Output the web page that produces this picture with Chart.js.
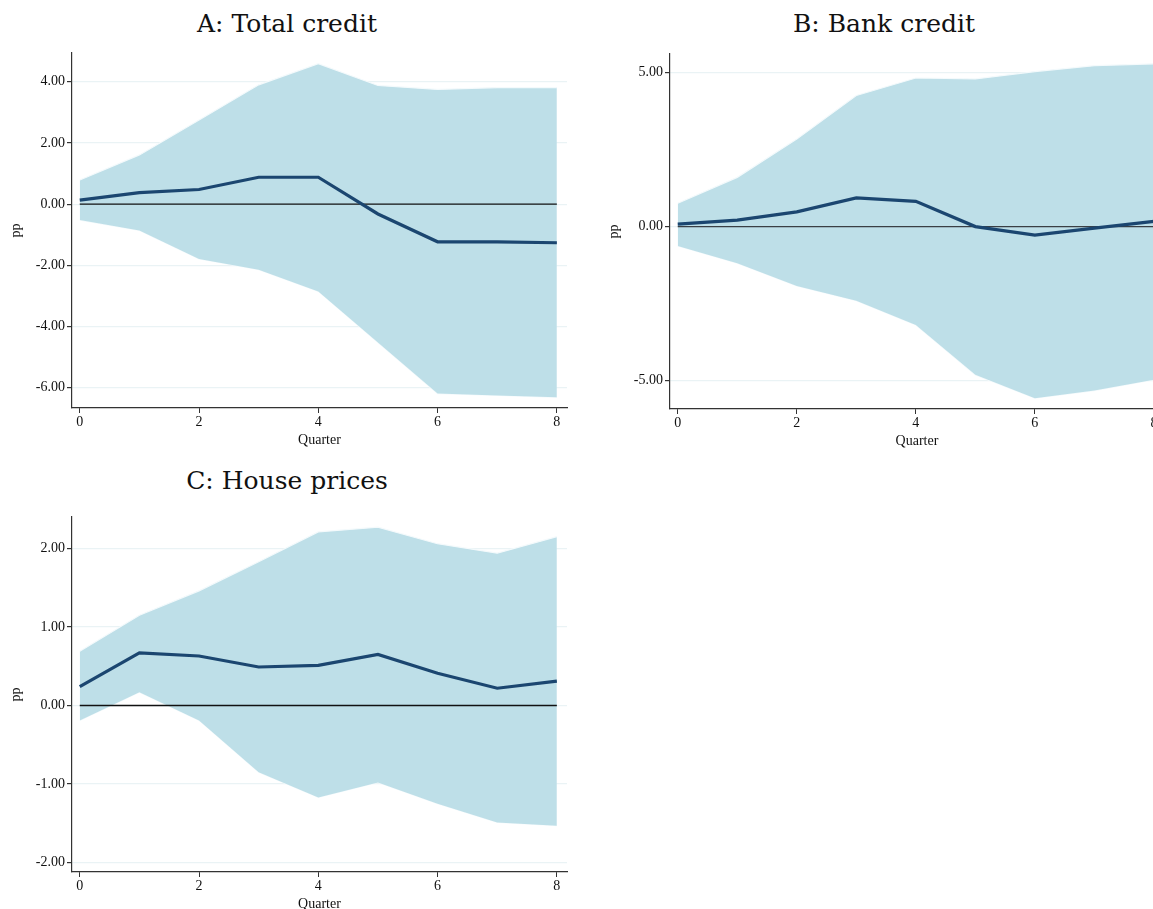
<!DOCTYPE html>
<html>
<head>
<meta charset="utf-8">
<script src="https://cdn.jsdelivr.net/npm/chart.js@4"></script>
<style>
  html, body { margin: 0; padding: 0; background: #fff; overflow: hidden; width: 1153px; height: 909px; }
  .panel { position: absolute; }
  .title { position: absolute; font-family: "DejaVu Serif", serif; font-size: 25px; color: #111; text-align: center; white-space: nowrap; }
</style>
</head>
<body>
<div class="title" style="left:0;width:574px;top:9px;">A: Total credit</div>
<div class="title" style="left:584px;width:600px;top:9px;">B: Bank credit</div>
<div class="title" style="left:0;width:574px;top:466px;">C: House prices</div>

<div class="panel" style="left:0;top:0;width:580px;height:450px;"><canvas id="chartA"></canvas></div>
<div class="panel" style="left:580px;top:1px;width:597px;height:450px;"><canvas id="chartB"></canvas></div>
<div class="panel" style="left:0;top:464px;width:580px;height:450px;"><canvas id="chartC"></canvas></div>

<script>
// quarters 0..8
const quarters = [0, 1, 2, 3, 4, 5, 6, 7, 8];

// A: Total credit
const totalMid   = [0.13, 0.38, 0.48, 0.88, 0.88, -0.32, -1.23, -1.23, -1.26];
const totalUpper = [0.79, 1.61, 2.75, 3.90, 4.59, 3.88, 3.75, 3.81, 3.81];
const totalLower = [-0.52, -0.86, -1.79, -2.14, -2.85, -4.52, -6.19, -6.25, -6.31];
const totalTicks = [-6, -4, -2, 0, 2, 4];

// B: Bank credit
const bankMid   = [0.08, 0.21, 0.48, 0.93, 0.82, 0.00, -0.28, -0.05, 0.17];
const bankUpper = [0.76, 1.60, 2.85, 4.26, 4.83, 4.80, 5.04, 5.23, 5.29];
const bankLower = [-0.63, -1.19, -1.93, -2.41, -3.20, -4.82, -5.58, -5.33, -4.98];
const bankTicks = [-5, 0, 5];

// C: House prices
const houseMid   = [0.24, 0.67, 0.63, 0.49, 0.51, 0.65, 0.41, 0.22, 0.31];
const houseUpper = [0.69, 1.15, 1.46, 1.83, 2.21, 2.27, 2.06, 1.94, 2.15];
const houseLower = [-0.19, 0.17, -0.19, -0.85, -1.17, -0.98, -1.25, -1.49, -1.53];
const houseTicks = [-2, -1, 0, 1, 2];

const xTicks = [0, 2, 4, 6, 8];

Chart.defaults.font.family = '"Liberation Serif", "Times New Roman", serif';
Chart.defaults.color = '#111';

function pts(vals) {
    return quarters.map((q, i) => ({ x: q, y: vals[i] }));
}

function makeChart(id, mid, upper, lower, yTicks, ymin, ymax, padLeft, zeroColor) {
    const ctx = document.getElementById(id).getContext('2d');
    return new Chart(ctx, {
        type: 'line',
        data: {
            datasets: [
                {
                    data: pts(mid),
                    borderColor: '#1b4670',
                    borderWidth: 3.2,
                    pointRadius: 0,
                    fill: false,
                    tension: 0,
                    order: 0
                },
                {
                    data: pts(quarters.map(() => 0)),
                    borderColor: zeroColor,
                    borderWidth: 1.3,
                    pointRadius: 0,
                    fill: false,
                    order: 1
                },
                {
                    data: pts(upper),
                    borderColor: '#f4fafc',
                    borderWidth: 1.2,
                    backgroundColor: '#bedfe8',
                    pointRadius: 0,
                    fill: '+1',
                    order: 2
                },
                {
                    data: pts(lower),
                    borderColor: '#f4fafc',
                    borderWidth: 1.2,
                    pointRadius: 0,
                    fill: false,
                    order: 3
                }
            ]
        },
        options: {
            responsive: true,
            maintainAspectRatio: false,
            animation: false,
            layout: { padding: { top: 53, right: 13, bottom: 0, left: padLeft } },
            plugins: {
                legend: { display: false },
                tooltip: { enabled: false }
            },
            scales: {
                x: {
                    type: 'linear',
                    min: -0.13,
                    max: 8.17,
                    afterBuildTicks: (s) => { s.ticks = xTicks.map(v => ({ value: v })); },
                    afterFit: (s) => { s.height = 42; },
                    ticks: {
                        font: { size: 14 },
                        padding: 1,
                        maxRotation: 0,
                        callback: (v) => String(v)
                    },
                    grid: { drawOnChartArea: false, drawTicks: true, tickLength: 5, tickColor: '#333' },
                    border: { display: true, color: '#333', width: 1.2 },
                    title: {
                        display: true,
                        text: 'Quarter',
                        font: { size: 14 },
                        padding: { top: 0, bottom: 1 }
                    }
                },
                y: {
                    min: ymin,
                    max: ymax,
                    afterBuildTicks: (s) => { s.ticks = yTicks.map(v => ({ value: v })); },
                    afterFit: (s) => { s.width = 72; },
                    ticks: {
                        font: { size: 14 },
                        padding: 2,
                        callback: (v) => v.toFixed(2)
                    },
                    grid: { color: '#eaf3f5', lineWidth: 1.2, drawTicks: true, tickLength: 5, tickColor: '#333' },
                    border: { display: true, color: '#333', width: 1.2 },
                    title: {
                        display: true,
                        text: 'pp',
                        font: { size: 14 },
                        padding: { top: 8, bottom: 0 }
                    }
                }
            }
        }
    });
}

const chartA = makeChart('chartA', totalMid, totalUpper, totalLower, totalTicks, -6.66, 4.94, 0, '#111');
const chartB = makeChart('chartB', bankMid, bankUpper, bankLower, bankTicks, -5.93, 5.61, 18, '#3a3f44');
const chartC = makeChart('chartC', houseMid, houseUpper, houseLower, houseTicks, -2.12, 2.40, 0, '#111');
</script>
</body>
</html>
